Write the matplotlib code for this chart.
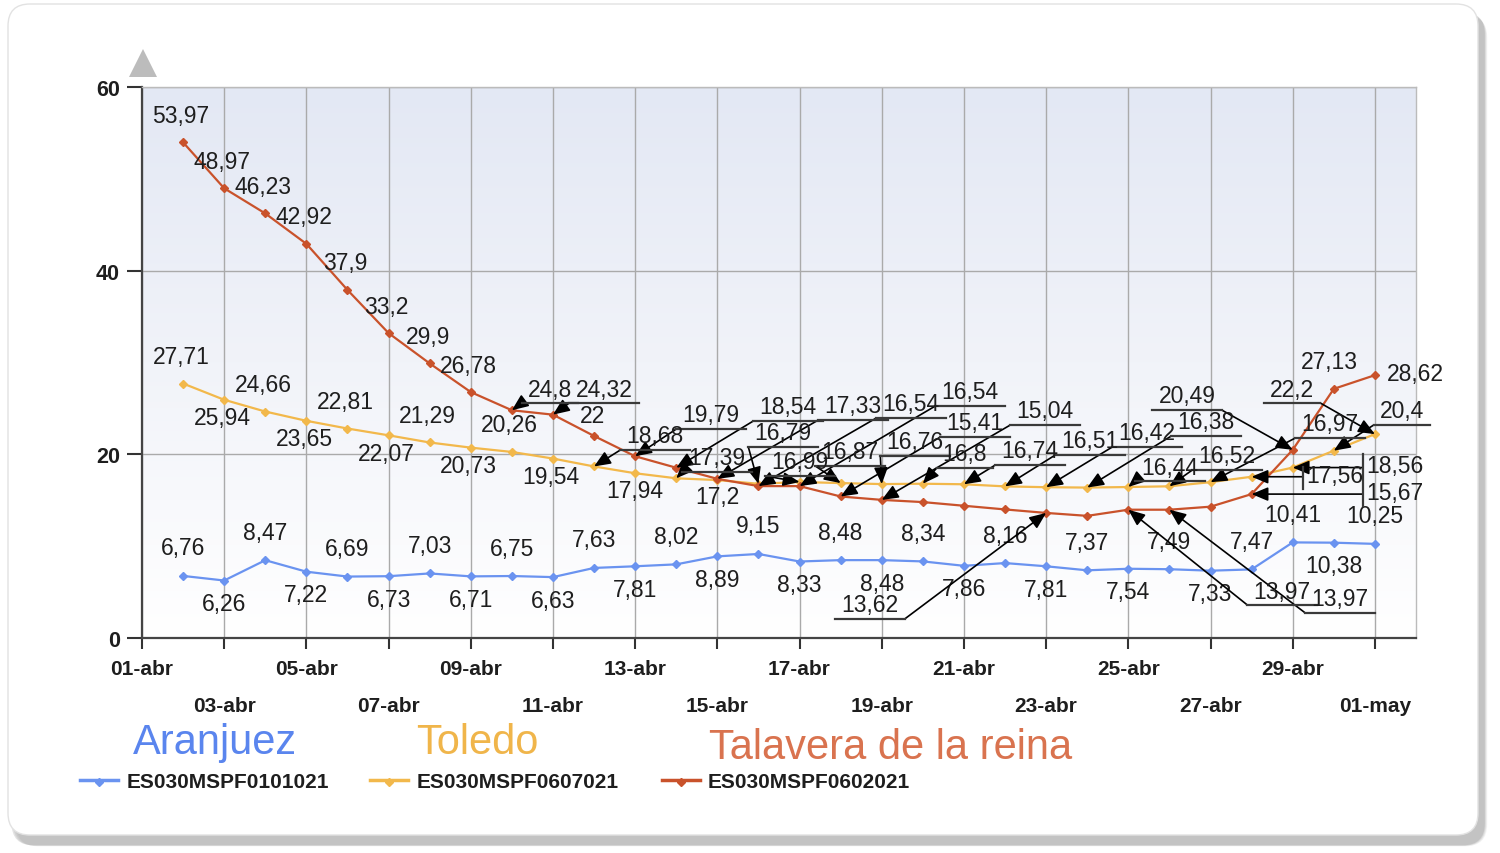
import numpy as np
import matplotlib
matplotlib.use("Agg")
import matplotlib.pyplot as plt
from matplotlib import font_manager
from matplotlib.patches import FancyBboxPatch, Polygon
from matplotlib.lines import Line2D
from matplotlib.colors import LinearSegmentedColormap

# ---------------- data ----------------
tick_labels = ["01-abr", "03-abr", "05-abr", "07-abr", "09-abr", "11-abr", "13-abr", "15-abr",
               "17-abr", "19-abr", "21-abr", "23-abr", "25-abr", "27-abr", "29-abr", "01-may"]
day_offsets = list(range(1, 31))          # 02-abr ... 01-may (days after 01-abr)
series_names = ["Aranjuez", "Toledo", "Talavera de la reina"]
series_codes = ["ES030MSPF0101021", "ES030MSPF0607021", "ES030MSPF0602021"]
y_ticks = [0, 20, 40, 60]

aranjuez = [6.76, 6.26, 8.47, 7.22, 6.69, 6.73, 7.03, 6.71, 6.75, 6.63,
            7.63, 7.81, 8.02, 8.89, 9.15, 8.33, 8.48, 8.48, 8.34, 7.86,
            8.16, 7.81, 7.37, 7.54, 7.49, 7.33, 7.47, 10.41, 10.38, 10.25]
toledo = [27.71, 25.94, 24.66, 23.65, 22.81, 22.07, 21.29, 20.73, 20.26, 19.54,
          18.68, 17.94, 17.39, 17.2, 16.79, 16.99, 16.87, 16.76, 16.8, 16.74,
          16.51, 16.42, 16.38, 16.44, 16.52, 16.97, 17.56, 18.56, 20.4, 22.2]
talavera = [53.97, 48.97, 46.23, 42.92, 37.9, 33.2, 29.9, 26.78, 24.8, 24.32,
            22.0, 19.79, 18.54, 17.33, 16.54, 16.54, 15.41, 15.04, 14.8, 14.4,
            14.0, 13.62, 13.3, 13.97, 13.97, 14.3, 15.67, 20.49, 27.13, 28.62]

# ---------------- styles / layout ----------------
W, H = 1500, 854
names = {f.name for f in font_manager.fontManager.ttflist}
LAB = "Liberation Sans" if "Liberation Sans" in names else "DejaVu Sans"
TXT = "#1e1e1e"
C_BLUE, C_YEL, C_RED = "#6a93f0", "#f2b84b", "#c9522b"
C_BLUE_T, C_YEL_T, C_RED_T = "#5a85ee", "#f0b54a", "#d9734f"
LBL_FS = 16.5
ARROW = "-|>,head_length=1.0,head_width=0.42"


def fx(px):
    return px / W


def fy(py):
    return 1 - py / H


def fmt(v):
    return f"{v:g}".replace(".", ",")


fig = plt.figure(figsize=(W / 100, H / 100), dpi=100)
fig.patch.set_facecolor("white")

# card with shadow (in inches, uniform scaling)
for i, a in enumerate([0.10, 0.13, 0.17, 0.24]):
    off = (4 - i) * 1.6
    sh = FancyBboxPatch(((10 + off) / 100, (H - 846 - off * 0.2) / 100),
                        (1474 - off * 0.5) / 100, (834 - off * 0.5) / 100,
                        boxstyle="round,pad=0,rounding_size=0.22",
                        transform=fig.dpi_scale_trans, facecolor="#8a8a8a",
                        edgecolor="none", alpha=a, zorder=0)
    fig.add_artist(sh)
card = FancyBboxPatch((8 / 100, (H - 836) / 100), 1470 / 100, 831 / 100,
                      boxstyle="round,pad=0,rounding_size=0.22",
                      transform=fig.dpi_scale_trans, facecolor="white",
                      edgecolor="#e2e2e2", lw=1.0, zorder=0.5)
fig.add_artist(card)

ax = fig.add_axes([fx(142), fy(639), fx(1416) - fx(142), fy(88) - fy(639)])
ax.set_zorder(2)
ax.patch.set_alpha(0)
ax.set_xlim(0, 31)
ax.set_ylim(0, 60)

# gradient background
cmap = LinearSegmentedColormap.from_list("bg", ["#ffffff", "#f1f3f9", "#e3e8f4"])
grad = np.linspace(0, 1, 256).reshape(-1, 1)
ax.imshow(grad, extent=[0, 31, 0, 60], origin="lower", aspect="auto", cmap=cmap, zorder=0)

# ticks
major = list(range(0, 31, 4))
minor = list(range(2, 31, 4))
ax.set_xticks(major)
ax.set_xticklabels(tick_labels[0::2])
ax.set_xticks(minor, minor=True)
ax.set_xticklabels(tick_labels[1::2], minor=True)
ax.set_yticks(y_ticks)
ax.set_yticklabels([str(t) for t in y_ticks])
for lab in ax.get_xticklabels(which="both") + ax.get_yticklabels():
    lab.set_fontfamily(LAB)
    lab.set_fontweight("bold")
    lab.set_color(TXT)
ax.tick_params(axis="x", which="major", length=8, width=1.5, color="#333333", pad=7, labelsize=15)
ax.tick_params(axis="x", which="minor", length=8, width=1.5, color="#333333", pad=34, labelsize=15)
ax.tick_params(axis="y", length=11, width=1.5, color="#333333", pad=5, labelsize=15.5)
ax.grid(True, which="both", axis="x", color="#aaaaaa", lw=1, zorder=1)
ax.grid(True, which="major", axis="y", color="#aaaaaa", lw=1, zorder=1)
ax.set_axisbelow(True)
for s in ["left", "bottom"]:
    ax.spines[s].set_color("#444444")
    ax.spines[s].set_linewidth(1.6)
for s in ["top", "right"]:
    ax.spines[s].set_color("#bbbbbb")
    ax.spines[s].set_linewidth(1)

# axis arrow
fig.add_artist(Polygon([[fx(129), fy(78)], [fx(157), fy(78)], [fx(143), fy(50)]],
                       closed=True, transform=fig.transFigure, facecolor="#bcbcbc",
                       edgecolor="none", zorder=3))

# lines
ax.plot(day_offsets, aranjuez, color=C_BLUE, lw=1.6, marker="D", ms=4.5, zorder=3)
ax.plot(day_offsets, toledo, color=C_YEL, lw=1.6, marker="D", ms=4.5, zorder=3)
ax.plot(day_offsets, talavera, color=C_RED, lw=1.6, marker="D", ms=4.5, zorder=4)


def simple(idx, vals, dx, dy):
    ax.annotate(fmt(vals[idx]), (day_offsets[idx], vals[idx]), xytext=(dx * 0.72, -dy * 0.72),
                textcoords="offset points", ha="center", va="center", fontsize=LBL_FS,
                family=LAB, color=TXT, zorder=6, annotation_clip=False)


def text_w(s):
    em = LBL_FS * 100 / 72
    return sum(0.278 * em if ch == "," else 0.556 * em for ch in s)


def arrowed(idx, vals, tpx, tpy, end):
    s = fmt(vals[idx])
    fig.text(fx(tpx), fy(tpy), s, ha="center", va="center", fontsize=LBL_FS,
             family=LAB, color=TXT, zorder=6)
    w = text_w(s)
    uy = tpy + 14
    x0, x1 = tpx - w / 2 - 6, tpx + w / 2 + 6
    fig.add_artist(Line2D([fx(x0), fx(x1)], [fy(uy), fy(uy)], transform=fig.transFigure,
                          color="#3a3a3a", lw=1.6, zorder=6))
    start = x0 if end == "L" else x1
    ax.annotate("", xy=(day_offsets[idx], vals[idx]), xycoords="data",
                xytext=(fx(start), fy(uy)), textcoords="figure fraction",
                arrowprops=dict(arrowstyle=ARROW, color="black", lw=1.2, shrinkA=0, shrinkB=0),
                annotation_clip=False, zorder=6)


def bracket(idx, vals, tpx, tpy, bx):
    s = fmt(vals[idx])
    fig.text(fx(tpx), fy(tpy), s, ha="left", va="center", fontsize=LBL_FS,
             family=LAB, color=TXT, zorder=6)
    ax.annotate("", xy=(day_offsets[idx], vals[idx]), xycoords="data",
                xytext=(fx(bx), vals[idx]), textcoords=("figure fraction", "data"),
                arrowprops=dict(arrowstyle=ARROW, color="black", lw=1.2, shrinkA=0, shrinkB=0),
                annotation_clip=False, zorder=6)


# Aranjuez labels: above / below alternation
blue_pos = "abababababababababababababaaba"
for i, p in enumerate(blue_pos):
    simple(i, aranjuez, 0, -28 if p == "a" else 23)

# Toledo simple labels
for i in range(10):
    simple(i, toledo, -2, -27 if i % 2 == 0 else 18)
simple(11, toledo, 0, 17)
simple(13, toledo, 0, 16)

# Talavera simple labels
for i in range(8):
    simple(i, talavera, -2, -27)
simple(10, talavera, -2, -20)
simple(28, talavera, -4, -27)
simple(29, talavera, 40, -2)

# smart labels with leader arrows (layout positions in reference pixels)
red_arrows = [(8, 550, 390, "L"), (9, 604, 390, "L"), (11, 711, 416, "L"),
              (12, 788, 408, "L"), (13, 853, 407, "L"), (14, 911, 405, "L"),
              (15, 970, 393, "L"), (16, 975, 424, "L"), (17, 1045, 412, "L"),
              (21, 870, 606, "R"), (23, 1282, 592, "L"), (24, 1340, 600, "L"),
              (27, 1187, 397, "R")]
yel_arrows = [(10, 655, 437, "L"), (12, 717, 459, "L"), (14, 783, 434, "L"),
              (15, 800, 463, "L"), (16, 850, 453, "L"), (17, 915, 443, "L"),
              (18, 965, 455, "L"), (19, 1030, 452, "L"), (20, 1090, 442, "L"),
              (21, 1147, 434, "L"), (22, 1206, 423, "L"), (23, 1170, 468, "L"),
              (24, 1227, 457, "L"), (25, 1330, 425, "L"), (28, 1402, 412, "L"),
              (29, 1292, 390, "R")]
for idx, px, py, e in red_arrows:
    arrowed(idx, talavera, px, py, e)
for idx, px, py, e in yel_arrows:
    arrowed(idx, toledo, px, py, e)

bracket(27, toledo, 1366, 466, 1363)
bracket(26, talavera, 1366, 494, 1363)
bracket(26, toledo, 1306, 477, 1303)
fig.add_artist(Line2D([fx(1363), fx(1363)], [fy(455), fy(507)], transform=fig.transFigure,
                      color="#3a3a3a", lw=1.6, zorder=6))
fig.add_artist(Line2D([fx(1303), fx(1303)], [fy(468), fy(490)], transform=fig.transFigure,
                      color="#3a3a3a", lw=1.6, zorder=6))

# legend
leg = [(215, 743, 80, 127, C_BLUE, C_BLUE_T), (477, 743, 370, 417, C_YEL, C_YEL_T),
       (891, 748, 662, 708, C_RED, C_RED_T)]
for (tx, ty, lx, cx, lc, tc), nm, code in zip(leg, series_names, series_codes):
    fig.text(fx(tx), fy(ty), nm, ha="center", va="center", fontsize=30, family=LAB, color=tc)
    fig.add_artist(Line2D([fx(lx), fx(lx + 38)], [fy(781), fy(781)], transform=fig.transFigure,
                          color=lc, lw=2.5))
    fig.add_artist(Line2D([fx(lx + 19)], [fy(783)], transform=fig.transFigure, color=lc,
                          marker="D", ms=4, lw=0))
    fig.text(fx(cx), fy(783), code, ha="left", va="center", fontsize=15, weight="bold",
             family=LAB, color=TXT)

fig.savefig("out.png", dpi=100)
